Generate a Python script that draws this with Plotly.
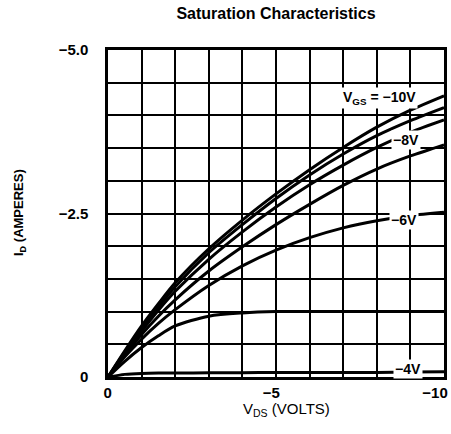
import plotly.graph_objects as go

# ---- data ----
vds = [0, -0.5, -1, -1.5, -2, -3, -4, -5, -6, -7, -8, -9, -10]

id_vgs_m10 = [0, -0.40, -0.78, -1.12, -1.44, -1.96, -2.40, -2.80, -3.17, -3.51, -3.82, -4.08, -4.30]
id_vgs_m9 = [0, -0.38, -0.74, -1.07, -1.38, -1.90, -2.33, -2.73, -3.09, -3.41, -3.69, -3.92, -4.12]
id_vgs_m8 = [0, -0.36, -0.70, -1.02, -1.31, -1.80, -2.22, -2.60, -2.94, -3.24, -3.51, -3.74, -3.93]
id_vgs_m7 = [0, -0.34, -0.65, -0.93, -1.18, -1.62, -1.99, -2.33, -2.64, -2.93, -3.18, -3.38, -3.55]
id_vgs_m6 = [0, -0.31, -0.58, -0.82, -1.03, -1.40, -1.70, -1.94, -2.13, -2.28, -2.39, -2.47, -2.52]
id_vgs_m5 = [0, -0.24, -0.45, -0.63, -0.78, -0.93, -0.98, -1.00, -1.00, -1.00, -1.00, -1.00, -1.00]
id_vgs_m4 = [0, -0.04, -0.055, -0.06, -0.06, -0.065, -0.065, -0.07, -0.07, -0.07, -0.07, -0.075, -0.08]

curves = [id_vgs_m10, id_vgs_m9, id_vgs_m8, id_vgs_m7, id_vgs_m6, id_vgs_m5, id_vgs_m4]

x_grid = [0, -1, -2, -3, -4, -5, -6, -7, -8, -9, -10]
x_ticktext = ["0", "", "", "", "", "\u22125", "", "", "", "", "\u221210"]
y_grid = [0, -0.5, -1, -1.5, -2, -2.5, -3, -3.5, -4, -4.5, -5]
y_ticktext = ["0", "", "", "", "", "\u22122.5", "", "", "", "", "\u22125.0"]

curve_labels = ["V<sub>GS</sub> = \u221210V", "\u22128V", "\u22126V", "\u22124V"]
label_x = [-8.07, -8.87, -8.8, -8.93]
label_y = [-4.27, -3.62, -2.40, -0.12]

FONT = "Liberation Sans, Arial, sans-serif"

fig = go.Figure()
for ys in curves:
    fig.add_trace(go.Scatter(
        x=vds, y=ys, mode="lines",
        line=dict(color="black", width=3, shape="spline", smoothing=0.8),
        hoverinfo="skip"))

for txt, lx, ly in zip(curve_labels, label_x, label_y):
    fig.add_annotation(x=lx, y=ly, xref="x", yref="y", text=txt, showarrow=False,
                       font=dict(family=FONT, size=14, color="black", weight="bold"),
                       bgcolor="white", borderpad=1)

fig.update_xaxes(range=[0, -10], tickvals=x_grid, ticktext=x_ticktext,
                 showgrid=True, gridcolor="black", gridwidth=1.5,
                 showline=True, linecolor="black", linewidth=2.5, mirror=True,
                 zeroline=False, ticks="", ticklabelstandoff=0, automargin=False,
                 ticklabelposition="outside left", ticklabelshift=-5,
                 ticklabeloverflow="allow",
                 tickfont=dict(family=FONT, size=15, color="black", weight="bold"))
fig.update_yaxes(range=[0, -5], tickvals=y_grid, ticktext=y_ticktext,
                 showgrid=True, gridcolor="black", gridwidth=1.5,
                 showline=True, linecolor="black", linewidth=2.5, mirror=True,
                 zeroline=False, ticks="", ticklabelstandoff=14, automargin=False,
                 ticklabeloverflow="allow",
                 tickfont=dict(family=FONT, size=15, color="black", weight="bold"))

fig.add_annotation(x=(19 - 108) / 336, y=(377 - 213) / 327, xref="paper", yref="paper",
                   xanchor="center", yanchor="middle", showarrow=False,
                   text="I<sub>D</sub> (AMPERES)", textangle=-90,
                   font=dict(family=FONT, size=13, color="black", weight="bold"))
fig.add_annotation(x=0.53, y=-0.10, xref="paper", yref="paper",
                   xanchor="center", yanchor="middle",
                   text="V<sub>DS</sub> (VOLTS)", showarrow=False,
                   font=dict(family=FONT, size=15, color="black"))

fig.update_layout(
    width=451, height=434,
    margin=dict(l=108, r=7, t=50, b=57, autoexpand=False),
    plot_bgcolor="white", paper_bgcolor="white", showlegend=False,
    title=dict(text="Saturation Characteristics", x=0.612, xanchor="center",
               y=0.968, yanchor="middle", automargin=False,
               font=dict(family=FONT, size=16, color="black", weight="bold")),
)

fig.write_html("out.html", config={"displayModeBar": False})

# remove the default page margin so the figure sits at the window's top-left
with open("out.html", "r", encoding="utf-8") as f:
    html = f.read()
html = html.replace("<body>", '<body style="margin:0;overflow:hidden">', 1)
with open("out.html", "w", encoding="utf-8") as f:
    f.write(html)
